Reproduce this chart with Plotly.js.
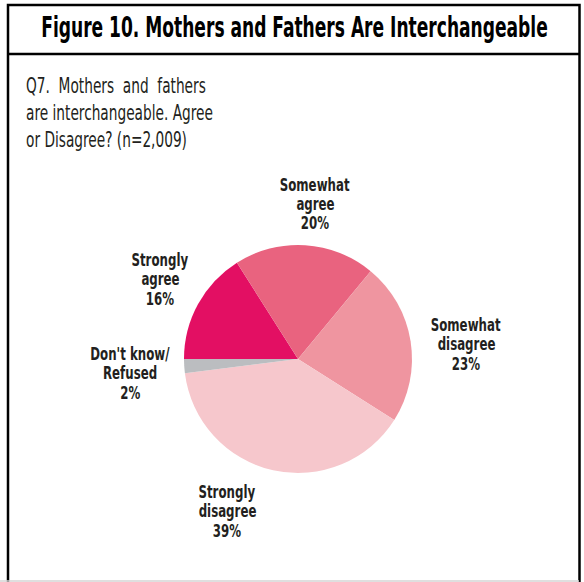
<!DOCTYPE html>
<html>
<head>
<meta charset="utf-8">
<script src="https://cdn.plot.ly/plotly-3.0.1.min.js"></script>
<style>
  html, body { margin: 0; padding: 0; background: #ffffff; overflow: hidden; }
  #chart { width: 584px; height: 582px; }
</style>
</head>
<body>
<div id="chart"></div>
<script>
// ---- data ----
var titleText = "Figure 10. Mothers and Fathers Are Interchangeable";
var questionLines = [
  "Q7.  Mothers  and  fathers",
  "are interchangeable. Agree",
  "or Disagree? (n=2,009)"
];
var categories = ["Strongly\nagree", "Somewhat\nagree", "Somewhat\ndisagree", "Strongly\ndisagree", "Don't know/\nRefused"];
var values = [16, 20, 23, 39, 2];
var colors = ["#E30F63", "#E9637F", "#EF95A0", "#F6C7CC", "#BBBDC0"];

// ---- layout helpers (positions in pixels) ----
var W = 584, H = 582;
function px(x) { return x / W; }
function py(y) { return 1 - y / H; }

var FONT = "'DejaVu Sans Condensed', 'DejaVu Sans', sans-serif";
var TXT = "#231F20";

// label centres for each slice (pixel coordinates) and line spacing
var labelPos = [[160, 279], [315, 204], [466, 344], [227, 511], [130, 373]];
var labelGap = 19.5;

var annotations = [];
var condense = [];
annotations.push({
  text: "<b>" + titleText + "</b>",
  xref: "paper", yref: "paper", x: px(294), y: py(27),
  xanchor: "center", yanchor: "middle", showarrow: false,
  font: { family: FONT, size: 28, color: "#000000" }
});
condense.push({ target: 507, origin: "center" });
var qBase = [86, 113, 140];
questionLines.forEach(function (line, i) {
  annotations.push({
    text: line,
    xref: "paper", yref: "paper", x: px(24), y: py(qBase[i]),
    xanchor: "left", yanchor: "middle", showarrow: false,
    font: { family: FONT, size: 21, color: TXT }
  });
  condense.push({ group: "q", origin: "left" });
});
categories.forEach(function (c, i) {
  var lines = c.split("\n").concat([values[i] + "%"]);
  var n = lines.length;
  lines.forEach(function (ln, k) {
    annotations.push({
      text: "<b>" + ln + "</b>",
      xref: "paper", yref: "paper",
      x: px(labelPos[i][0]), y: py(labelPos[i][1] + (k - (n - 1) / 2) * labelGap),
      xanchor: "center", yanchor: "middle", showarrow: false,
      font: { family: FONT, size: 17.5, color: TXT }
    });
    condense.push({ group: "lab", origin: "center" });
  });
});

var cx = 298, cy = 359, r = 114;

var trace = {
  type: "pie",
  labels: categories,
  values: values,
  sort: false,
  direction: "clockwise",
  rotation: -90,
  textinfo: "none",
  hoverinfo: "label+percent",
  marker: { colors: colors, line: { width: 0 } },
  domain: { x: [px(cx - r), px(cx + r)], y: [py(cy + r), py(cy - r)] }
};

var layout = {
  width: W, height: H,
  margin: { l: 0, r: 0, t: 0, b: 0 },
  paper_bgcolor: "#ffffff",
  showlegend: false,
  annotations: annotations,
  shapes: [
    { type: "rect", xref: "paper", yref: "paper", x0: px(8), x1: px(579.5), y0: py(590), y1: py(5),
      line: { color: "#000000", width: 2.5 }, layer: "above" },
    { type: "line", xref: "paper", yref: "paper", x0: px(8), x1: px(579.5), y0: py(54), y1: py(54),
      line: { color: "#000000", width: 2.5 }, layer: "above" },
    { type: "line", xref: "paper", yref: "paper", x0: 0, x1: px(579), y0: py(581), y1: py(581),
      line: { color: "#D4D4D4", width: 1.5 }, layer: "above" }
  ]
};

Plotly.newPlot("chart", [trace], layout, { displayModeBar: false, staticPlot: true }).then(function () {
  // condense the text horizontally to imitate the narrow typeface of the reference
  var groups = document.querySelectorAll("g.annotation");
  var texts = [];
  groups.forEach(function (g) {
    var idx = +g.getAttribute("data-index");
    var t = g.querySelector("text.annotation-text");
    if (t) texts[idx] = t;
  });
  var qScale = 187 / texts[2].getBBox().width; // second question line spans ~187px
  texts.forEach(function (t, i) {
    if (!t) return;
    var info = condense[i];
    var bb = t.getBBox();
    var s;
    if (info.target) s = info.target / bb.width;
    else if (info.group === "q") s = qScale;
    else s = 0.75;
    var ox = info.origin === "left" ? bb.x : bb.x + bb.width / 2;
    var prev = t.getAttribute("transform") || "";
    t.setAttribute("transform", prev + " translate(" + ox + ",0) scale(" + s + ",1) translate(" + (-ox) + ",0)");
  });
});
</script>
</body>
</html>
